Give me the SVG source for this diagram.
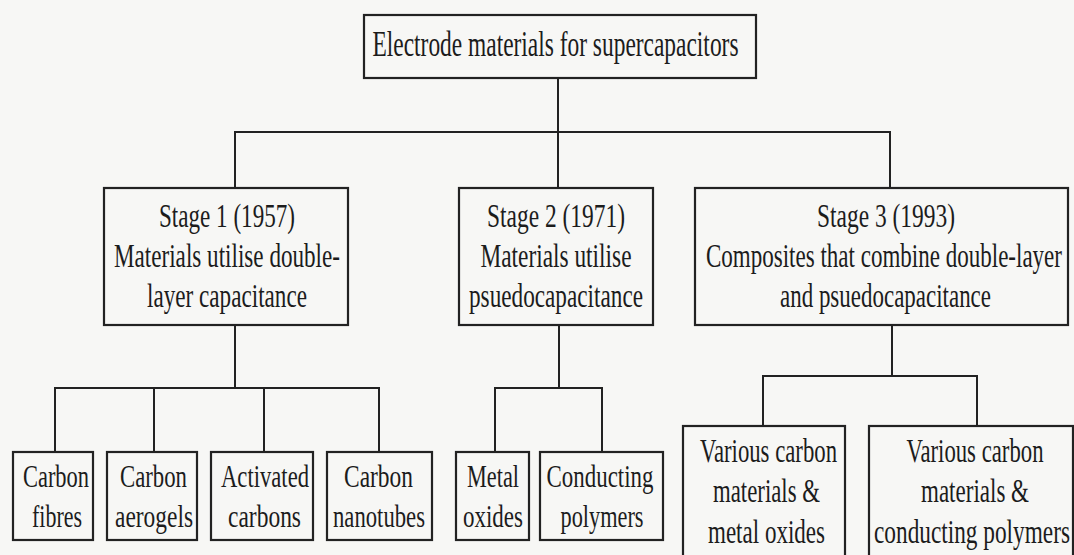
<svg xmlns="http://www.w3.org/2000/svg" width="1074" height="555" viewBox="0 0 1074 555">
<style>
.bg{fill:#f7f7f5}
.box{fill:none;stroke:#222;stroke-width:2.2}
.con{fill:none;stroke:#222;stroke-width:2}
text{font-family:"Liberation Serif","Times New Roman",serif;fill:#1c1c1c;text-anchor:middle;font-size:33px}
.big{font-size:35px}
.sm{font-size:31px}
</style>
<rect class="bg" x="0" y="0" width="1074" height="555"/>
<g id="connectors">
<path class="con" d="M558,78 V188 M235,188 V132 H890 V188"/>
<path class="con" d="M235,325 V388 M55,452 V388 H379 V452 M154,388 V452 M264,388 V452"/>
<path class="con" d="M559,325 V388 M495,452 V388 H602 V452"/>
<path class="con" d="M892,325 V376 M763,426 V376 H977 V426"/>
</g>
<g id="root">
<rect class="box" x="364" y="15" width="392" height="63"/>
<text class="big" x="555.5" y="56" textLength="366" lengthAdjust="spacingAndGlyphs">Electrode materials for supercapacitors</text>
</g>
<g id="stage1">
<rect class="box" x="104" y="188" width="244" height="137"/>
<text x="227" y="227" textLength="136" lengthAdjust="spacingAndGlyphs">Stage 1 (1957)</text>
<text x="227" y="267" textLength="226" lengthAdjust="spacingAndGlyphs">Materials utilise double-</text>
<text x="227" y="307" textLength="160" lengthAdjust="spacingAndGlyphs">layer capacitance</text>
</g>
<g id="stage2">
<rect class="box" x="459" y="188" width="194" height="137"/>
<text x="556" y="227" textLength="138" lengthAdjust="spacingAndGlyphs">Stage 2 (1971)</text>
<text x="556" y="267" textLength="151" lengthAdjust="spacingAndGlyphs">Materials utilise</text>
<text x="556" y="307" textLength="174" lengthAdjust="spacingAndGlyphs">psuedocapacitance</text>
</g>
<g id="stage3">
<rect class="box" x="695" y="188" width="373" height="137"/>
<text x="886" y="227" textLength="138" lengthAdjust="spacingAndGlyphs">Stage 3 (1993)</text>
<text x="884" y="267" textLength="356" lengthAdjust="spacingAndGlyphs">Composites that combine double-layer</text>
<text x="885.5" y="307" textLength="211" lengthAdjust="spacingAndGlyphs">and psuedocapacitance</text>
</g>
<g id="carbon-fibres">
<rect class="box" x="13" y="452" width="80" height="88"/>
<text class="sm" x="56" y="487" textLength="66" lengthAdjust="spacingAndGlyphs">Carbon</text>
<text class="sm" x="57" y="527" textLength="50" lengthAdjust="spacingAndGlyphs">fibres</text>
</g>
<g id="carbon-aerogels">
<rect class="box" x="107" y="452" width="90" height="88"/>
<text class="sm" x="153.5" y="487" textLength="67" lengthAdjust="spacingAndGlyphs">Carbon</text>
<text class="sm" x="154" y="527" textLength="78" lengthAdjust="spacingAndGlyphs">aerogels</text>
</g>
<g id="activated-carbons">
<rect class="box" x="211" y="452" width="102" height="88"/>
<text class="sm" x="265" y="487" textLength="88" lengthAdjust="spacingAndGlyphs">Activated</text>
<text class="sm" x="264.5" y="527" textLength="73" lengthAdjust="spacingAndGlyphs">carbons</text>
</g>
<g id="carbon-nanotubes">
<rect class="box" x="327" y="452" width="105" height="88"/>
<text class="sm" x="378.5" y="487" textLength="69" lengthAdjust="spacingAndGlyphs">Carbon</text>
<text class="sm" x="379" y="527" textLength="92" lengthAdjust="spacingAndGlyphs">nanotubes</text>
</g>
<g id="metal-oxides">
<rect class="box" x="456" y="452" width="73" height="88"/>
<text class="sm" x="493" y="487" textLength="52" lengthAdjust="spacingAndGlyphs">Metal</text>
<text class="sm" x="493" y="527" textLength="60" lengthAdjust="spacingAndGlyphs">oxides</text>
</g>
<g id="conducting-polymers">
<rect class="box" x="540" y="452" width="123" height="88"/>
<text class="sm" x="600" y="487" textLength="107" lengthAdjust="spacingAndGlyphs">Conducting</text>
<text class="sm" x="602" y="527" textLength="83" lengthAdjust="spacingAndGlyphs">polymers</text>
</g>
<g id="carbon-metal-oxides">
<rect class="box" x="683" y="426" width="162" height="140"/>
<text x="768.5" y="462" textLength="137" lengthAdjust="spacingAndGlyphs">Various carbon</text>
<text x="766.5" y="502" textLength="107" lengthAdjust="spacingAndGlyphs">materials &amp;</text>
<text x="766.5" y="543" textLength="117" lengthAdjust="spacingAndGlyphs">metal oxides</text>
</g>
<g id="carbon-conducting-polymers">
<rect class="box" x="869" y="426" width="204" height="140"/>
<text x="975" y="462" textLength="137" lengthAdjust="spacingAndGlyphs">Various carbon</text>
<text x="975" y="502" textLength="108" lengthAdjust="spacingAndGlyphs">materials &amp;</text>
<text x="972" y="543" textLength="196" lengthAdjust="spacingAndGlyphs">conducting polymers</text>
</g>
</svg>
